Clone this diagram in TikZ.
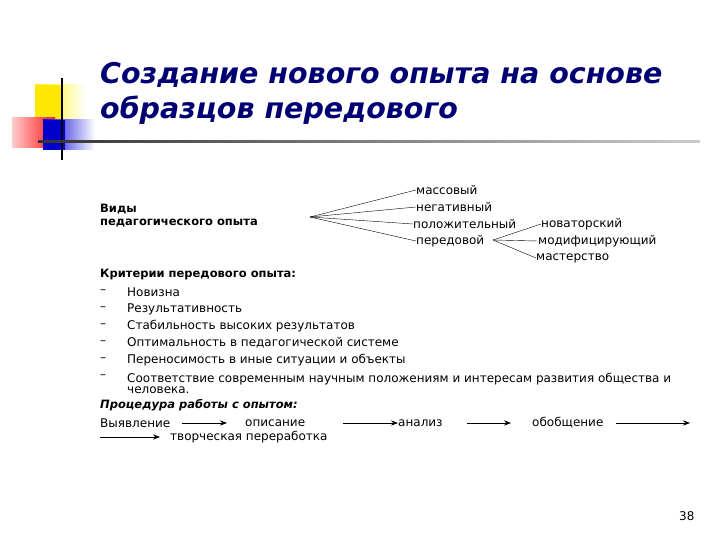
\documentclass[tikz,border=0pt]{standalone}
\usepackage{fontspec}
\setmainfont{DejaVu Sans}
\usetikzlibrary{arrows.meta}
\begin{document}
\begin{tikzpicture}[x=1pt,y=-1pt,
 t/.style={anchor=west,inner sep=0pt,font=\fontsize{12}{13}\selectfont},
 b/.style={t,font=\fontsize{11.5}{13}\selectfont\bfseries},
 ar/.style={-{Stealth[length=7pt]},thick}]
\useasboundingbox (0,0) rectangle (720,540);
\fill[white] (0,0) rectangle (720,540);
% decoration
\shade[left color=yellow!90!orange,right color=white] (35,85) rectangle (85,125);
\fill[yellow!90!orange] (35,85) rectangle (62,125);
\shade[left color=red!20,right color=red!90] (12,118) rectangle (55,148);
\shade[left color=blue!85!black,right color=white] (43,120) rectangle (95,150);
\fill[blue!80!black] (43,120) rectangle (65,150);
\draw[line width=1.5pt] (62,78) -- (62,160);
\shade[left color=black!80,right color=black!20] (38,140.5) rectangle (700,143);
\node[anchor=west,inner sep=0pt,align=left,text=blue!45!black,font=\fontsize{28.5}{35}\selectfont\bfseries\itshape] (title) at (100,93) {Создание нового опыта на основе\\образцов передового};
% types
\node[b,align=left] (vid) at (100,216) {Виды\\педагогического опыта};
\coordinate (o1) at (310,217);
\node[t] (m1) at (416,190) {массовый};
\node[t] (m2) at (416,207) {негативный};
\node[t] (m3) at (413,224) {положительный};
\node[t] (m4) at (416,241) {передовой};
\foreach \n in {m1,m2,m3,m4}\draw (o1) -- (\n.west);
\coordinate (o2) at (493,240);
\node[t] (p1) at (541,224) {новаторский};
\node[t] (p2) at (538,241) {модифицирующий};
\node[t] (p3) at (536,258) {мастерство};
\foreach \n in {p1,p2,p3}\draw (o2) -- (\n.west);
% criteria
\node[b] (kr) at (100,275) {Критерии передового опыта:};
\foreach \y/\s [count=\i] in {292/Новизна,309/Результативность,326/Стабильность высоких результатов,343/Оптимальность в педагогической системе,360/Переносимость в иные ситуации и объекты}{
 \node[t] (d\i) at (100,\y) {–};
 \node[t] (c\i) at (127,\y) {\s};}
\node[t] (d6) at (100,377) {–};
\node[t,align=left,font=\fontsize{12}{11}\selectfont] (c6) at (127,383) {Соответствие современным научным положениям и интересам развития общества и\\человека.};
% procedure
\node[b,font=\fontsize{11.5}{13}\selectfont\bfseries\itshape] (pr) at (100,405) {Процедура работы с опытом:};
\node[t] (s1) at (100,423) {Выявление};
\node[t] (s2) at (245,423) {описание};
\node[t] (s3) at (398,423) {анализ};
\node[t] (s4) at (532,423) {обобщение};
\node[t] (s5) at (170,437) {творческая переработка};
\coordinate (e1) at (690,423);
\coordinate (e0) at (100,437);
\draw[ar] (s1.east) ++(12,0) -- ([xshift=-18pt]s2.west);
\draw[ar] (s2.east) ++(38,0) -- (s3.west);
\draw[ar] (s3.east) ++(24,0) -- ([xshift=-21pt]s4.west);
\draw[ar] (s4.east) ++(12,0) -- (e1);
\draw[ar] (e0) -- ([xshift=-10pt]s5.west);
\node[t] (pg) at (679,516) {38};
\end{tikzpicture}
\end{document}
